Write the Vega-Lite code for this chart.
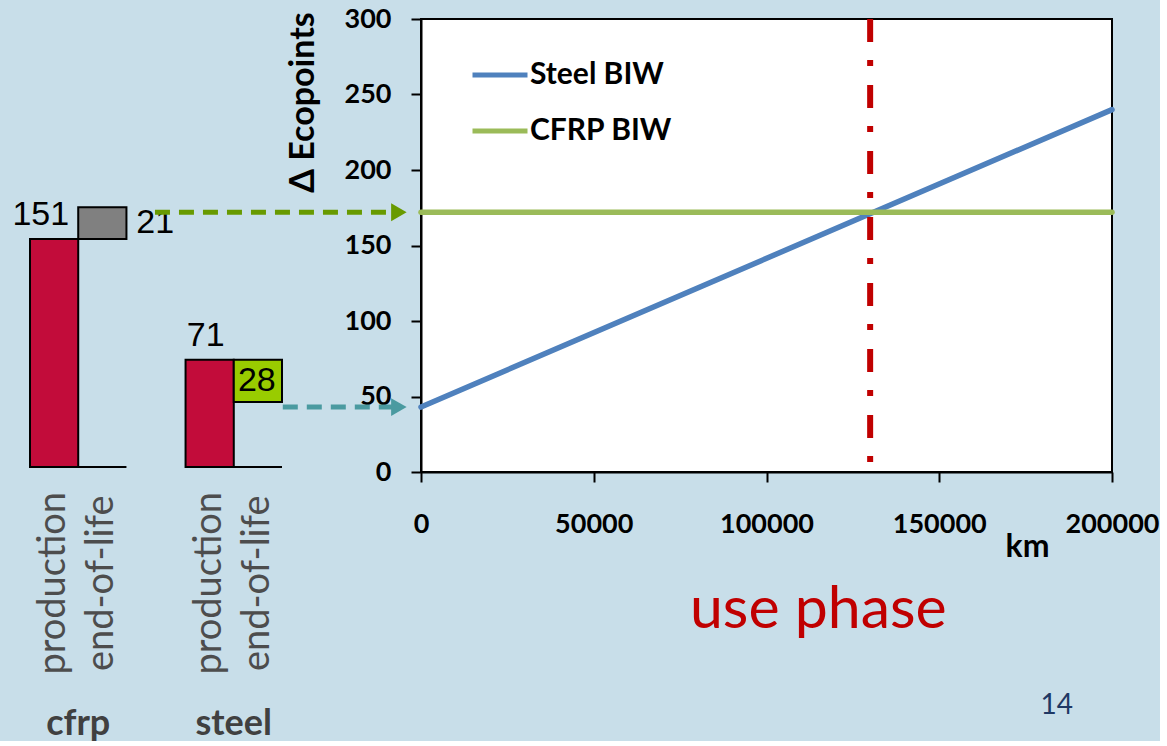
{
  "$schema": "https://vega.github.io/schema/vega-lite/v6.json",
  "background": "#C8DEE9",
  "padding": {"left": 12, "top": 4, "right": 0, "bottom": 0},
  "bounds": "flush",
  "spacing": 139,
  "config": {"view": {"stroke": null}, "font": "Lato", "axis": {"grid": false}},
  "hconcat": [
    {
      "width": 252,
      "height": 453,
      "data": {"values": [
        {"material": "cfrp", "stage": "production", "bar": "cfrp production", "start": 0, "end": 151, "value": 151},
        {"material": "cfrp", "stage": "end-of-life", "bar": "cfrp end-of-life", "start": 151, "end": 172, "value": 21},
        {"material": "steel", "stage": "production", "bar": "steel production", "start": 0, "end": 71, "value": 71},
        {"material": "steel", "stage": "end-of-life", "bar": "steel end-of-life", "start": 71, "end": 43, "value": 28}
      ]},
      "transform": [{"calculate": "(datum.start + datum.end) / 2", "as": "mid"}],
      "encoding": {
        "x": {"field": "material", "type": "nominal", "sort": ["cfrp", "steel"],
              "scale": {"paddingInner": 0.38, "paddingOuter": 0},
              "axis": {"title": null, "domain": false, "ticks": false, "tickSize": 0, "labelAngle": 0, "labelPadding": 234,
                       "labelFont": "Lato", "labelFontWeight": "bold", "labelFontSize": 36, "labelColor": "#404040"}},
        "xOffset": {"field": "stage", "type": "nominal", "sort": ["production", "end-of-life"],
                    "scale": {"paddingInner": 0, "paddingOuter": 0}}
      },
      "layer": [
        {
          "mark": {"type": "bar", "stroke": "black", "strokeWidth": 2},
          "encoding": {
            "y": {"field": "start", "type": "quantitative", "scale": {"domain": [-3.3, 296.7], "nice": false, "zero": false}, "axis": null},
            "y2": {"field": "end"},
            "color": {"field": "bar", "type": "nominal",
                      "scale": {"domain": ["cfrp production", "cfrp end-of-life", "steel production", "steel end-of-life"],
                                "range": ["#C20C3A", "#808080", "#C20C3A", "#99CC00"]},
                      "legend": null}
          }
        },
        {
          "mark": {"type": "bar", "fill": null, "stroke": "black", "strokeWidth": 2},
          "encoding": {"y": {"datum": 0}, "y2": {"datum": 0}}
        },
        {
          "transform": [{"filter": "datum.stage === 'production'"}],
          "mark": {"type": "text", "align": "right", "baseline": "alphabetic", "dx": 15, "dy": -14, "font": "Liberation Sans", "fontSize": 34, "color": "black"},
          "encoding": {"y": {"field": "end", "type": "quantitative"}, "text": {"field": "value"}}
        },
        {
          "transform": [{"filter": "datum.bar === 'cfrp end-of-life'"}],
          "mark": {"type": "text", "align": "left", "baseline": "middle", "dx": 34, "font": "Liberation Sans", "fontSize": 34, "color": "black"},
          "encoding": {"y": {"field": "mid", "type": "quantitative"}, "text": {"field": "value"}}
        },
        {
          "transform": [{"filter": "datum.bar === 'steel end-of-life'"}],
          "mark": {"type": "text", "align": "left", "baseline": "middle", "dx": -20, "font": "Liberation Sans", "fontSize": 34, "color": "black"},
          "encoding": {"y": {"field": "mid", "type": "quantitative"}, "text": {"field": "value"}}
        },
        {
          "mark": {"type": "text", "angle": 270, "align": "center", "baseline": "middle", "font": "Lato", "fontSize": 38, "color": "#4D4D4D"},
          "encoding": {"y": {"datum": -77}, "text": {"field": "stage"}}
        }
      ]
    },
    {
      "width": 691,
      "height": 453,
      "view": {"fill": "white", "stroke": "black", "strokeWidth": 2},
      "resolve": {"scale": {"color": "independent"}},
      "layer": [
        {
          "data": {"values": [
            {"series": "Steel BIW", "km": 0, "points": 43},
            {"series": "Steel BIW", "km": 200000, "points": 240},
            {"series": "CFRP BIW", "km": 0, "points": 172},
            {"series": "CFRP BIW", "km": 200000, "points": 172}
          ]},
          "mark": {"type": "line", "strokeWidth": 5.5, "strokeCap": "round"},
          "encoding": {
            "x": {"field": "km", "type": "quantitative", "scale": {"domain": [0, 200000], "nice": false},
                  "axis": {"title": "km", "values": [0, 50000, 100000, 150000, 200000], "format": "d",
                           "labelFont": "Lato", "labelFontWeight": "bold", "labelFontSize": 27, "labelColor": "black",
                           "labelPadding": 29, "labelFlush": false, "labelOverlap": false, "labelBound": false,
                           "tickSize": 10, "tickWidth": 2, "tickColor": "black", "domainColor": "black", "domainWidth": 2,
                           "titleFont": "Lato", "titleFontWeight": "bold", "titleFontSize": 32, "titleColor": "black",
                           "titleX": 606, "titleY": 84, "titleAlign": "center", "titleBaseline": "alphabetic"}},
            "y": {"field": "points", "type": "quantitative", "scale": {"domain": [0, 300], "nice": false},
                  "axis": {"title": "Δ Ecopoints", "values": [0, 50, 100, 150, 200, 250, 300],
                           "labelFont": "Lato", "labelFontWeight": "bold", "labelFontSize": 27, "labelColor": "black",
                           "labelPadding": 20, "labelOverlap": false, "labelBound": false, "labelFlush": false,
                           "tickSize": 10, "tickWidth": 2, "tickColor": "black", "domainColor": "black", "domainWidth": 2,
                           "titleFont": "Lato", "titleFontWeight": "bold", "titleFontSize": 34, "titleColor": "black",
                           "titleAngle": 270, "titleX": -118, "titleY": 83, "titleAlign": "center", "titleBaseline": "middle"}},
            "color": {"field": "series", "type": "nominal",
                      "scale": {"domain": ["Steel BIW", "CFRP BIW"], "range": ["#4F81BD", "#9BBB59"]},
                      "legend": {"orient": "none", "legendX": 49, "legendY": 26, "title": null, "symbolType": "stroke",
                                 "symbolSize": 3025, "symbolStrokeWidth": 5, "labelFont": "Lato", "labelFontWeight": "bold",
                                 "labelFontSize": 30, "labelColor": "black", "rowPadding": 11, "labelOffset": 0, "padding": 0}}
          }
        },
        {
          "data": {"values": [{"breakeven_km": 130000}]},
          "mark": {"type": "rule", "color": "#C00000", "strokeWidth": 6, "strokeDash": [23, 18, 6, 19]},
          "encoding": {"x": {"field": "breakeven_km", "type": "quantitative"}, "y": {"datum": 300}, "y2": {"datum": 5}}
        },
        {
          "data": {"values": [
            {"material": "cfrp", "total": 172, "from_km": -77000, "to_km": -6400},
            {"material": "steel", "total": 43, "from_km": -40000, "to_km": -6400}
          ]},
          "layer": [
            {
              "mark": {"type": "rule", "strokeWidth": 5, "strokeDash": [15, 9]},
              "encoding": {
                "x": {"field": "from_km", "type": "quantitative"},
                "x2": {"field": "to_km"},
                "y": {"field": "total", "type": "quantitative"},
                "color": {"field": "material", "type": "nominal", "scale": {"domain": ["cfrp", "steel"], "range": ["#689A00", "#4A9AA0"]}, "legend": null}
              }
            },
            {
              "mark": {"type": "point", "shape": "triangle-right", "filled": true, "size": 320, "opacity": 1},
              "encoding": {
                "x": {"field": "to_km", "type": "quantitative"},
                "y": {"field": "total", "type": "quantitative"},
                "color": {"field": "material", "type": "nominal", "scale": {"domain": ["cfrp", "steel"], "range": ["#689A00", "#4A9AA0"]}, "legend": null}
              }
            }
          ]
        },
        {
          "data": {"values": [{"label": "use phase"}]},
          "mark": {"type": "text", "align": "center", "baseline": "alphabetic", "font": "Lato", "fontSize": 59, "color": "#C00000"},
          "encoding": {"x": {"datum": 115000}, "y": {"datum": -103}, "text": {"field": "label"}}
        },
        {
          "data": {"values": [{"label": "14"}]},
          "mark": {"type": "text", "align": "center", "baseline": "middle", "font": "Lato", "fontSize": 28, "color": "#1F3864"},
          "encoding": {"x": {"datum": 184000}, "y": {"datum": -155}, "text": {"field": "label"}}
        }
      ]
    }
  ]
}
